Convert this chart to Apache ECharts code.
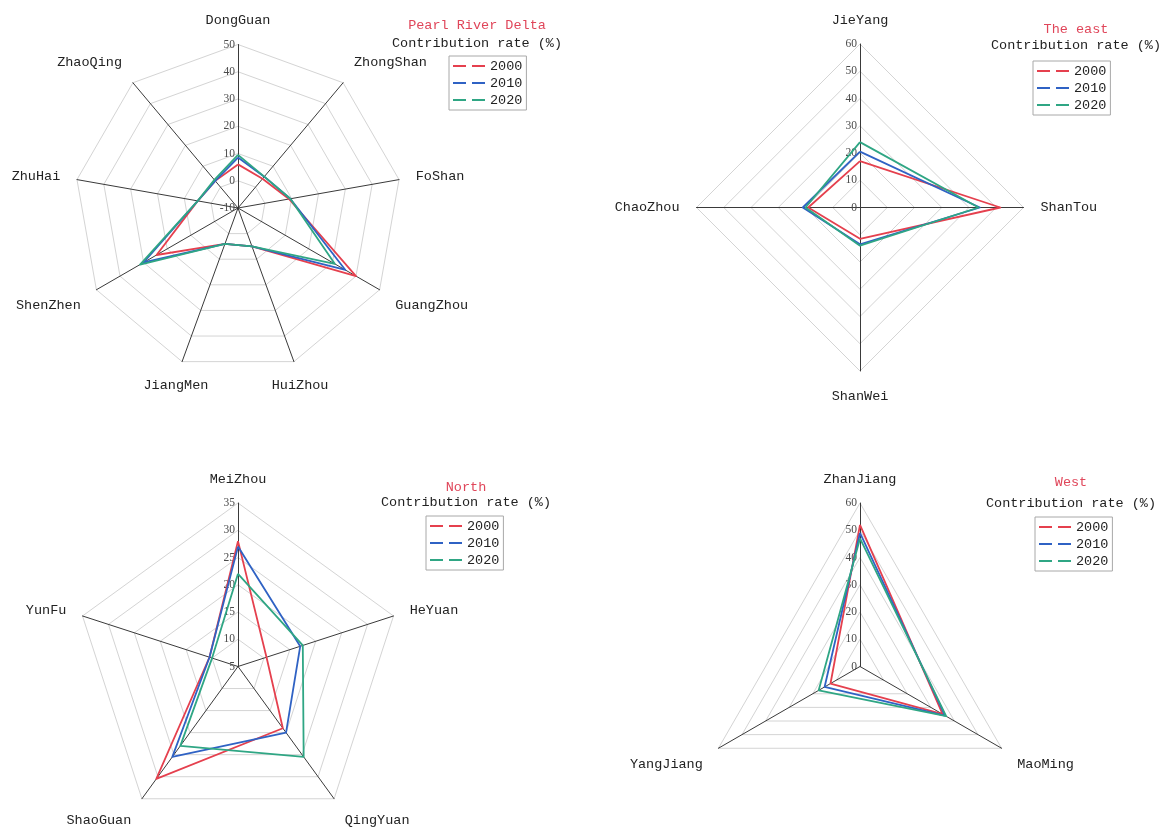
<!DOCTYPE html>
<html>
<head>
<meta charset="utf-8">
<script src="https://cdn.jsdelivr.net/npm/echarts@6/dist/echarts.min.js"></script>
<style>
  html, body { margin: 0; padding: 0; background: #ffffff; }
  #chart { width: 1162px; height: 829px; }
</style>
</head>
<body>
<div id="chart"></div>
<script>
// Years shown in every panel
const years = ['2000', '2010', '2020'];
const subtitle = 'Contribution rate (%)';

// Pearl River Delta (clockwise from the top)
const prdCities = ['DongGuan', 'ZhongShan', 'FoShan', 'GuangZhou', 'HuiZhou', 'JiangMen', 'ShenZhen', 'ZhuHai', 'ZhaoQing'];
const prdRange = [-10, 50];
const prd2000 = [6, 4, 9, 40, 5, 4, 24.5, 5, 3];
const prd2010 = [8.5, 5, 9.5, 35.5, 5, 4, 30, 5, 3];
const prd2020 = [9.5, 5, 9.5, 31, 5, 4, 31.5, 5, 3.5];

// The east
const eastCities = ['JieYang', 'ShanTou', 'ShanWei', 'ChaoZhou'];
const eastRange = [0, 60];
const east2000 = [17, 51.5, 11.5, 19];
const east2010 = [20.5, 44, 13.5, 21];
const east2020 = [24, 43.5, 14, 20];

// North
const northCities = ['MeiZhou', 'HeYuan', 'QingYuan', 'ShaoGuan', 'YunFu'];
const northRange = [5, 35];
const north2000 = [28, 10.5, 19, 30.5, 10.5];
const north2010 = [27, 17, 20, 25.5, 10.5];
const north2020 = [22, 17.5, 25.5, 23, 10];

// West
const westCities = ['ZhanJiang', 'MaoMing', 'YangJiang'];
const westRange = [0, 60];
const west2000 = [52, 35, 12.5];
const west2010 = [49, 36, 15];
const west2020 = [47, 36.5, 17.5];

// Line colours per year
const yearColors = ['#e5404e', '#2f62c4', '#2fa684'];

const panels = [
  { name: 'Pearl River Delta', cities: prdCities, range: prdRange, values: [prd2000, prd2010, prd2020],
    center: [238, 208], titleX: 477, titleTop: 17, titleGap: 2, legendLeft: 449, legendTop: 56 },
  { name: 'The east', cities: eastCities, range: eastRange, values: [east2000, east2010, east2020],
    center: [860, 207.5], titleX: 1076, titleTop: 21, titleGap: 0, legendLeft: 1033, legendTop: 61 },
  { name: 'North', cities: northCities, range: northRange, values: [north2000, north2010, north2020],
    center: [238, 666.5], titleX: 466, titleTop: 479, titleGap: -1, legendLeft: 426, legendTop: 516 },
  { name: 'West', cities: westCities, range: westRange, values: [west2000, west2010, west2020],
    center: [860, 666.5], titleX: 1071, titleTop: 474, titleGap: 5, legendLeft: 1035, legendTop: 517 }
];

// ECharts lays radar indicators out counter-clockwise; keep the first one on top
// and reverse the rest so the cities run clockwise.
function clockwise(arr) {
  return [arr[0]].concat(arr.slice(1).reverse());
}

const monoFont = 'Liberation Mono';

// Place each city name outside its spoke: centred above/below near-vertical
// spokes, hanging below lower spokes and sitting on top of upper ones.
function indicatorFor(p, city, i, n) {
  const ang = Math.PI / 2 + i * 2 * Math.PI / n;
  const c = Math.cos(ang), s = Math.sin(ang);
  const align = Math.abs(c) < 0.4 ? 'center' : (c > 0 ? 'left' : 'right');
  const vAlign = Math.abs(s) < 0.35 ? 'middle' : (s > 0 ? 'bottom' : 'top');
  return {
    name: city,
    min: p.range[0],
    max: p.range[1],
    nameGap: s < -0.35 ? 18 : 17,
    nameTextStyle: { align: align, verticalAlign: vAlign },
    axisLabel: { show: i === 0 }
  };
}

const option = {
  backgroundColor: '#ffffff',
  animation: false,
  title: panels.map(p => ({
    text: p.name,
    subtext: subtitle,
    left: p.titleX,
    top: p.titleTop,
    textAlign: 'center',
    itemGap: p.titleGap,
    padding: 0,
    textStyle: { color: '#e0465a', fontFamily: monoFont, fontSize: 13.5, fontWeight: 'normal', lineHeight: 16 },
    subtextStyle: { color: '#222', fontFamily: monoFont, fontSize: 13.5, lineHeight: 16 }
  })),
  legend: panels.map(p => ({
    data: years,
    orient: 'vertical',
    left: p.legendLeft,
    top: p.legendTop,
    icon: 'path://M0,0H13V2H0Z M19,0H32V2H19Z',
    itemWidth: 32,
    itemHeight: 2,
    itemGap: 3,
    padding: [3, 4, 3, 4],
    borderColor: '#a8a8a8',
    borderWidth: 1,
    selectedMode: false,
    textStyle: { color: '#222', fontFamily: monoFont, fontSize: 13.5 }
  })),
  radar: panels.map(p => {
    const ordered = clockwise(p.cities);
    return {
      center: p.center,
      radius: 163.5,
      startAngle: 90,
      shape: 'polygon',
      splitNumber: 6,
      nameGap: 17,
      indicator: ordered.map((c, i) => indicatorFor(p, c, i, ordered.length)),
      axisName: { color: '#222', fontFamily: monoFont, fontSize: 13.5 },
      axisLine: { lineStyle: { color: '#3a3a3a', width: 1 } },
      splitLine: { lineStyle: { color: '#d4d4d4', width: 1 } },
      splitArea: { show: false },
      axisTick: { show: false },
      axisLabel: { show: false, color: '#4a4a4a', fontFamily: 'Liberation Serif', fontSize: 11.5, margin: 3 }
    };
  }),
  series: panels.map((p, k) => ({
    type: 'radar',
    radarIndex: k,
    symbol: 'none',
    data: years.map((y, j) => ({
      name: y,
      value: clockwise(p.values[j]),
      lineStyle: { color: yearColors[j], width: 1.8 },
      itemStyle: { color: yearColors[j] }
    }))
  }))
};

const chart = echarts.init(document.getElementById('chart'), null, { renderer: 'canvas' });
chart.setOption(option);
</script>
</body>
</html>
